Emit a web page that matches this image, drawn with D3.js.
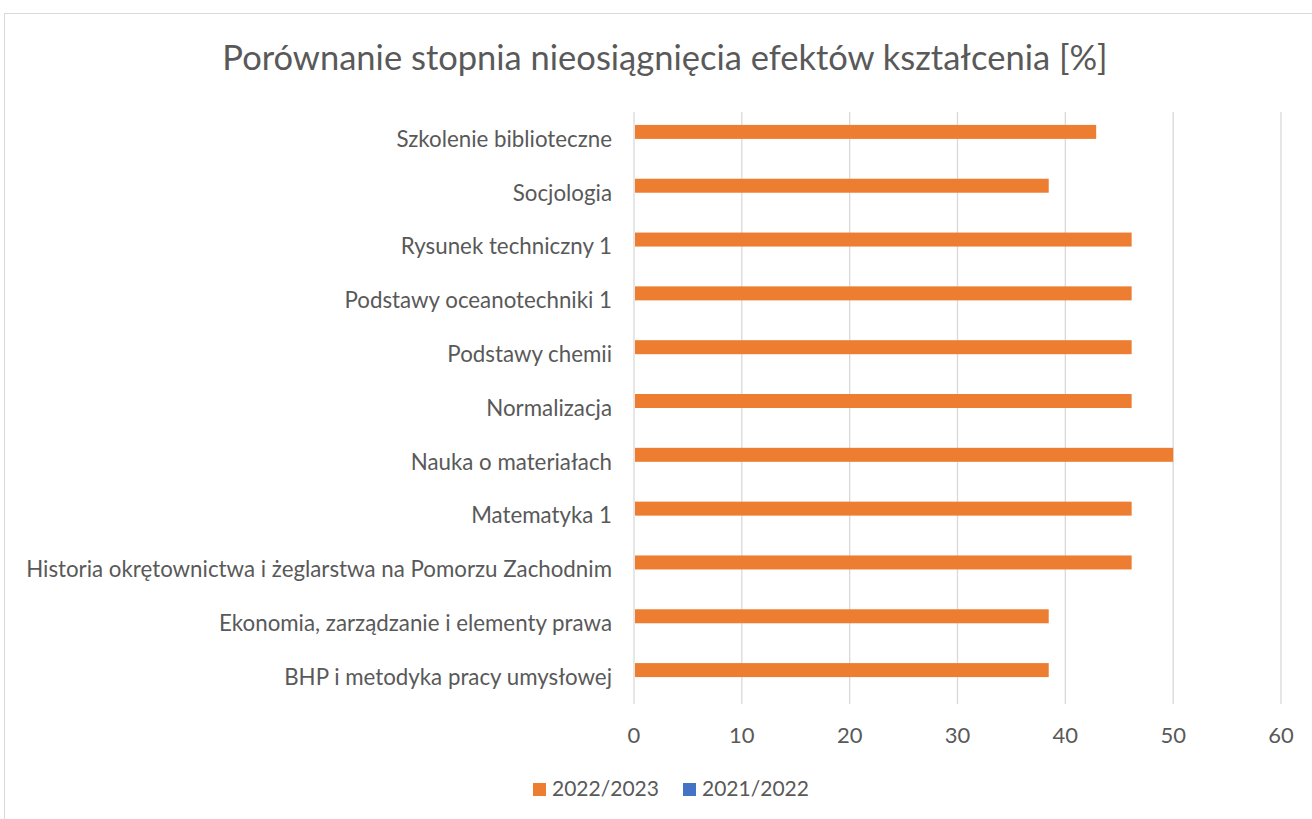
<!DOCTYPE html>
<html>
<head>
<meta charset="utf-8">
<script src="https://cdn.jsdelivr.net/npm/d3@7"></script>
<style>
  body { margin: 0; background: #fff; }
  text { font-family: Lato, "Open Sans", sans-serif; fill: #595959; }
</style>
</head>
<body>
<svg id="chart" width="1312" height="819"></svg>
<script>
var width = 1312,
    height = 819;

// categories top to bottom, as they appear in the chart
var categories = [
  "Szkolenie biblioteczne",
  "Socjologia",
  "Rysunek techniczny 1",
  "Podstawy oceanotechniki 1",
  "Podstawy chemii",
  "Normalizacja",
  "Nauka o materiałach",
  "Matematyka 1",
  "Historia okrętownictwa i żeglarstwa na Pomorzu Zachodnim",
  "Ekonomia, zarządzanie i elementy prawa",
  "BHP i metodyka pracy umysłowej"
];

var seriesNames = ["2022/2023", "2021/2022"];
var values2022 = [42.86, 38.46, 46.15, 46.15, 46.15, 46.15, 50, 46.15, 46.15, 38.46, 38.46];
var values2021 = [null, null, null, null, null, null, null, null, null, null, null];
var xTicks = [0, 10, 20, 30, 40, 50, 60];

var colors = { "2022/2023": "#ED7D31", "2021/2022": "#4472C4" };

var margin = { top: 112, right: 31, bottom: 115, left: 634 };

var svg = d3.select("#chart");

// chart area border
svg.append("rect")
    .attr("x", 4.5)
    .attr("y", 13.5)
    .attr("width", 1320)
    .attr("height", 830)
    .attr("fill", "#fff")
    .attr("stroke", "#d9d9d9");

svg.append("text")
    .attr("x", 665)
    .attr("y", 70)
    .attr("text-anchor", "middle")
    .style("font-size", "34.5px")
    .text("Porównanie stopnia nieosiągnięcia efektów kształcenia [%]");

var x = d3.scaleLinear()
    .domain([0, 60])
    .range([margin.left, width - margin.right]);

var y = d3.scaleBand()
    .domain(categories)
    .range([margin.top, height - margin.bottom])
    .paddingInner(0.48)
    .paddingOuter(0.24);

var ySeries = d3.scaleBand()
    .domain(seriesNames)
    .range([0, y.bandwidth()]);

// vertical gridlines
svg.append("g")
    .selectAll("line")
    .data(xTicks)
    .enter().append("line")
    .attr("x1", function(d) { return x(d); })
    .attr("x2", function(d) { return x(d); })
    .attr("y1", margin.top)
    .attr("y2", height - margin.bottom)
    .attr("stroke", "#d9d9d9")
    .attr("stroke-width", 1.3);

var rows = categories.map(function(c, i) {
  return [
    { cat: c, series: "2022/2023", value: values2022[i] },
    { cat: c, series: "2021/2022", value: values2021[i] }
  ];
});

var bars = d3.merge(rows).filter(function(d) { return d.value != null; });

svg.append("g")
    .selectAll("rect")
    .data(bars)
    .enter().append("rect")
    .attr("x", x(0) + 1)
    .attr("y", function(d) { return y(d.cat) + ySeries(d.series); })
    .attr("width", function(d) { return x(d.value) - x(0) - 1; })
    .attr("height", ySeries.bandwidth())
    .attr("fill", function(d) { return colors[d.series]; });

// category labels
svg.append("g")
    .selectAll("text")
    .data(categories)
    .enter().append("text")
    .attr("x", margin.left - 22)
    .attr("y", function(d) { return y(d) + y.bandwidth() / 2; })
    .attr("dy", "0.35em")
    .attr("text-anchor", "end")
    .style("font-size", "22.3px")
    .text(function(d) { return d; });

// x tick labels
svg.append("g")
    .selectAll("text")
    .data(xTicks)
    .enter().append("text")
    .attr("x", function(d) { return x(d); })
    .attr("y", height - margin.bottom + 31)
    .attr("dy", "0.35em")
    .attr("text-anchor", "middle")
    .style("font-size", "22px")
    .text(function(d) { return d; });

// legend
var legend = svg.append("g")
    .selectAll("g")
    .data(seriesNames)
    .enter().append("g")
    .attr("transform", function(d, i) { return "translate(" + (533 + i * 150) + ",789)"; });

legend.append("rect")
    .attr("x", 0)
    .attr("y", -6)
    .attr("width", 13)
    .attr("height", 13)
    .attr("fill", function(d) { return colors[d]; });

legend.append("text")
    .attr("x", 19)
    .attr("y", 0)
    .attr("dy", "0.35em")
    .style("font-size", "21px")
    .text(function(d) { return d; });
</script>
</body>
</html>
